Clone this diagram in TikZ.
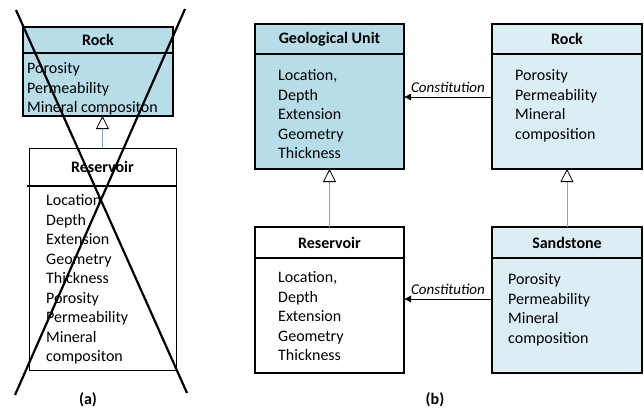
\documentclass[tikz,border=0pt]{standalone}
\usepackage{fontspec}
\setmainfont{Carlito}
\usetikzlibrary{arrows.meta,positioning}
\definecolor{deepcyan}{HTML}{B7DDE8}
\definecolor{paleblue}{HTML}{DBEEF4}
\definecolor{linkblue}{HTML}{7FA7DA}
\definecolor{rulegray}{HTML}{555555}

\begin{document}
\begin{tikzpicture}[x=1pt,y=-1pt,font=\fontsize{16}{19.5}\selectfont,>=Latex]
  \tikzset{classhead/.style={draw,line width=1.3pt,minimum width=149pt,minimum height=30pt,inner sep=0pt,outer sep=0pt,font=\fontsize{16}{19.5}\selectfont\bfseries},
    classbody/.style={draw,line width=1.3pt,minimum width=149pt,inner sep=0pt,outer sep=0pt},
    attrs/.style={anchor=north west,align=left,inner sep=0pt},
    constitution/.style={-{Latex[length=7pt,width=7pt]},thin},
    isa/.style={draw=linkblue,line width=0.9pt,-{Triangle[length=13pt,width=13pt,fill=white,color=black,line width=0.8pt]}},
    crossline/.style={line width=2.2pt},
    caption/.style={font=\fontsize{16}{19.5}\selectfont\bfseries}}
  \useasboundingbox (0,0) rectangle (644,408);
  % (a)
  \node[classhead,fill=deepcyan,minimum width=150pt,minimum height=26pt] (oldrock) at (98,40) {Rock};
  \node[classbody,fill=deepcyan,minimum width=150pt,minimum height=63pt,below=0pt of oldrock] (oldrockbody) {};
  \node[attrs] (oldrockattrs) at (27,62.5) {Porosity\\Permeability\\Mineral compositon};
  \node[classhead,line width=0.8pt,minimum width=147pt,minimum height=38pt] (oldres) at (102.5,167) {Reservoir};
  \node[classbody,line width=0.8pt,minimum width=147pt,minimum height=184pt,below=0pt of oldres] (oldresbody) {};
  \draw[line width=1.3pt] ([xshift=-2pt]oldres.south west) -- (oldres.south east);
  \node[attrs] (oldresattrs) at (46,194.5) {Location\\Depth\\Extension\\Geometry\\Thickness\\Porosity\\Permeability\\Mineral\\compositon};
  \draw[isa] (oldres.north) -- (oldres.north |- oldrockbody.south);
  \coordinate (crossnw) at (16,10);
  \coordinate (crossse) at (187,393);
  \coordinate (crossne) at (185,9);
  \coordinate (crosssw) at (15,395);
  \draw[crossline] (crossnw) -- (crossse);
  \draw[crossline] (crossne) -- (crosssw);
  \node[caption] (capa) at (88,400) {(a)};
  % separator
  \coordinate (septop) at (211.5,38);
  \coordinate (sepbot) at (211.5,380);
  \draw[rulegray,line width=0.8pt,double,double distance=2.2pt] (septop) -- (sepbot);
  % (b)
  \node[classhead,fill=deepcyan] (geo) at (329.5,39) {Geological Unit};
  \node[classbody,fill=deepcyan,minimum height=115pt,below=0pt of geo] (geobody) {};
  \node[attrs] (geoattrs) at (278,69.5) {Location,\\Depth\\Extension\\Geometry\\Thickness};
  \node[classhead,fill=paleblue,minimum width=150pt] (rock) at (567,39) {Rock};
  \node[classbody,fill=paleblue,minimum width=150pt,minimum height=115pt,below=0pt of rock] (rockbody) {};
  \node[attrs] (rockattrs) at (515,69.5) {Porosity\\Permeability\\Mineral\\composition};
  \node[classhead,minimum height=31pt] (res) at (329.5,242.5) {Reservoir};
  \node[classbody,minimum height=115pt,below=0pt of res] (resbody) {};
  \node[attrs] (resattrs) at (278,271.5) {Location,\\Depth\\Extension\\Geometry\\Thickness};
  \node[classhead,fill=paleblue,minimum width=150pt,minimum height=31pt] (sand) at (567,242.5) {Sandstone};
  \node[classbody,fill=paleblue,minimum width=150pt,minimum height=115pt,below=0pt of sand] (sandbody) {};
  \node[attrs] (sandattrs) at (508,273.5) {Porosity\\Permeability\\Mineral\\composition};
  \draw[constitution] ([yshift=14.5pt]rockbody.west) -- node[above=1pt,font=\fontsize{15}{18}\selectfont\itshape]{Constitution} ([yshift=14.5pt]geobody.east);
  \draw[constitution] ([yshift=16.5pt]sandbody.west) -- node[above=1pt,font=\fontsize{15}{18}\selectfont\itshape]{Constitution} ([yshift=16.5pt]resbody.east);
  \draw[isa] (res.north) -- (geobody.south);
  \draw[isa] (sand.north) -- (rockbody.south);
  \node[caption] (capb) at (435,400) {(b)};
\end{tikzpicture}
\end{document}
